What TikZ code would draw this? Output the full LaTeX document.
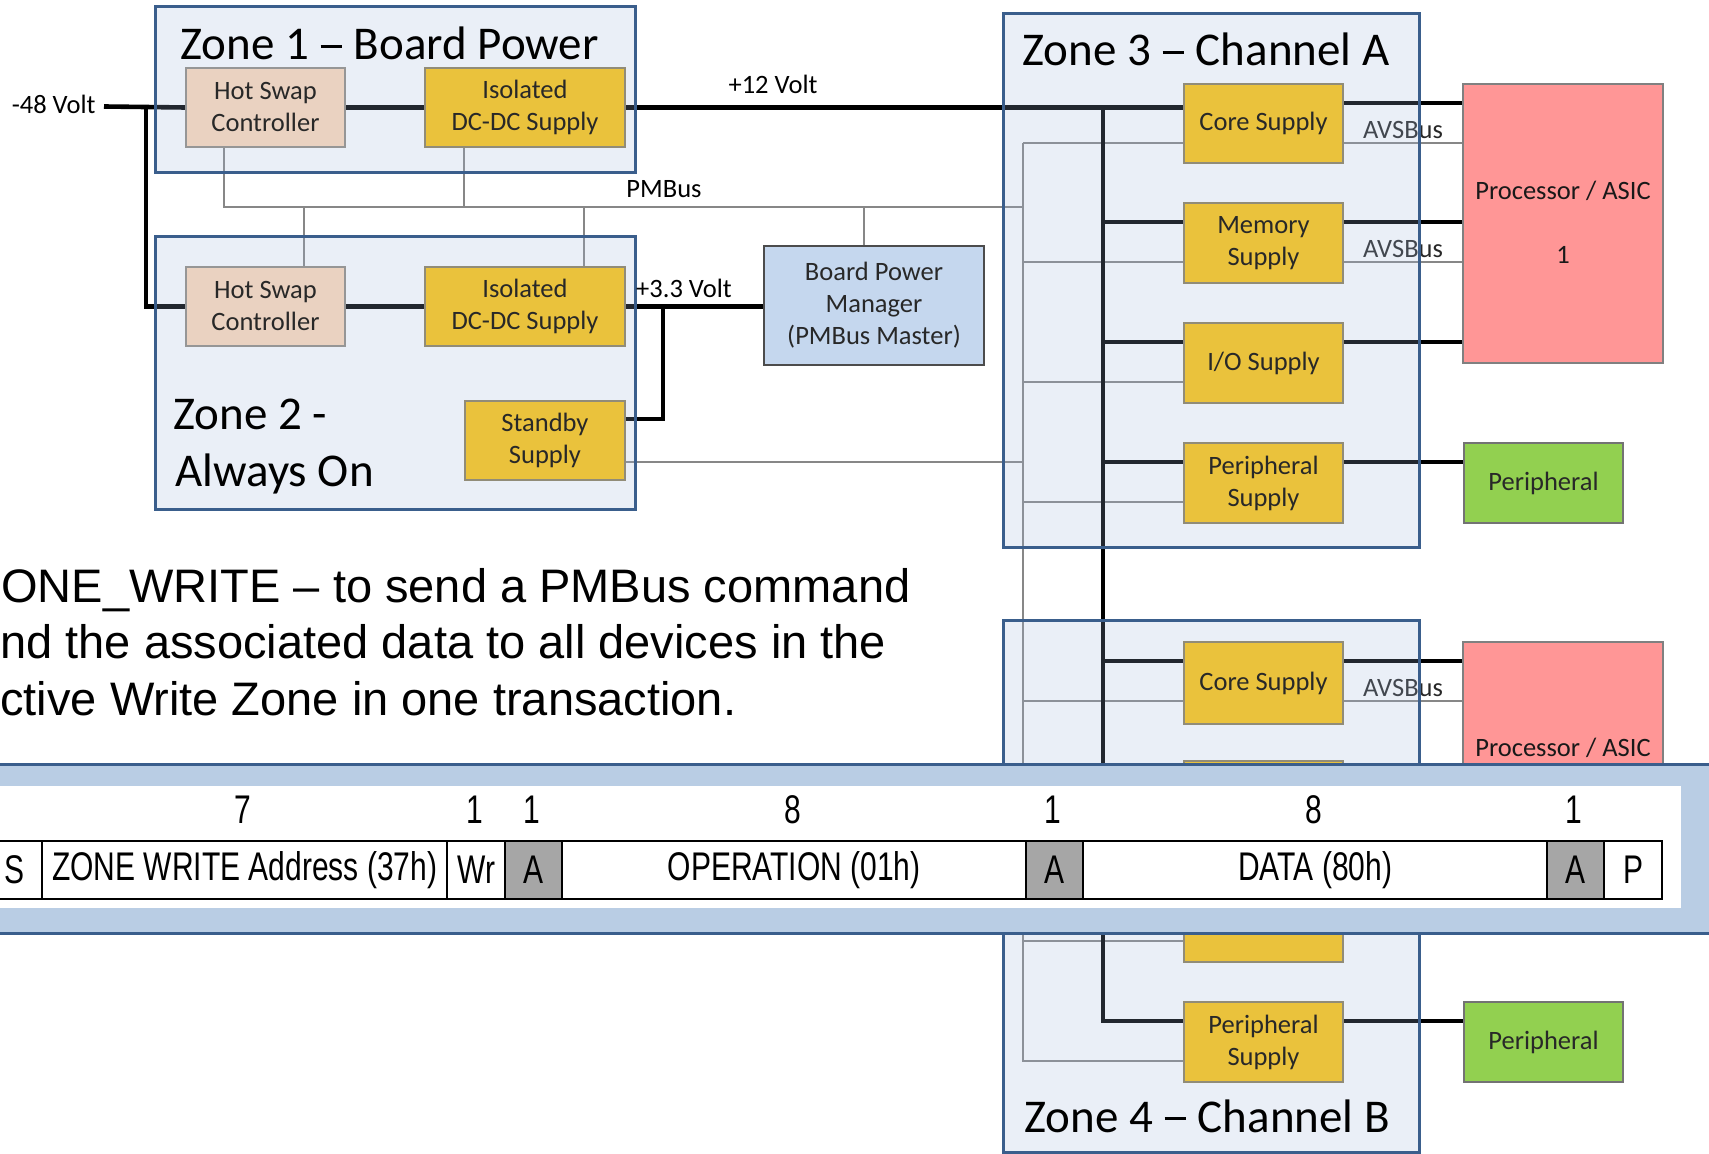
\documentclass[tikz,border=0pt]{standalone}
\usepackage{fontspec}
\setmainfont{Carlito}
\newfontfamily\arialf{Liberation Sans}
\newfontfamily\narrowf[FakeStretch=0.75]{Liberation Sans}
\usetikzlibrary{calc}
\pgfdeclarelayer{lines}
\pgfdeclarelayer{zones}
\pgfdeclarelayer{front}
\pgfsetlayers{lines,zones,main,front}

\definecolor{zoneblue}{RGB}{58,94,140}
\definecolor{zonetint}{RGB}{159,182,218}
\definecolor{hsfill}{RGB}{234,210,193}
\definecolor{hsline}{RGB}{150,150,150}
\definecolor{yfill}{RGB}{234,194,60}
\definecolor{yline}{RGB}{145,140,120}
\definecolor{bpmfill}{RGB}{197,215,238}
\definecolor{procfill}{RGB}{255,150,150}
\definecolor{perfill}{RGB}{146,208,80}
\definecolor{sigc}{RGB}{135,135,135}
\definecolor{bandfill}{RGB}{185,205,228}
\definecolor{cellgray}{RGB}{166,166,166}
\definecolor{txt}{RGB}{40,40,40}

\newcommand\myboxfont{\fontsize{13.25}{16}\selectfont}
\newcommand\mytitlefont{\fontsize{23.5}{28}\selectfont}
\newcommand\mymainfont{\arialf\fontsize{23.5}{28}\selectfont}
\newcommand\mycellfont{\narrowf\fontsize{20}{24}\selectfont}
\newcommand\zdash{\kern0.02em\rule[0.26em]{0.46em}{0.065em}\kern0.02em}
\newcommand\bx[7]{\node[#1, anchor=north west, minimum width={(#5-#3)*0.5pt}, minimum height={(#6-#4)*0.5pt}] (#2) at (#3,#4) {#7};}

\tikzset{
 basebox/.style={draw, line width=1pt, align=center, text=txt, font=\myboxfont, inner sep=1pt},
 hsbox/.style={basebox, draw=hsline, fill=hsfill},
 ybox/.style={basebox, draw=yline, fill=yfill},
 bpmbox/.style={basebox, draw=black!70, fill=bpmfill},
 procbox/.style={basebox, draw=black!50, fill=procfill},
 perbox/.style={basebox, draw=black!55, fill=perfill},
 zone/.style={draw=zoneblue, line width=1.7pt, fill=zonetint, fill opacity=0.22},
 ztitle/.style={font=\mytitlefont, text=black, inner sep=0pt, anchor=base west},
 lbl/.style={font=\myboxfont, text=black, inner sep=0pt},
 pw/.style={line width=2.3pt, draw=black},
 sig/.style={line width=1pt, draw=sigc},
 avs/.style={font=\myboxfont, text=txt, anchor=south, inner sep=1.5pt},
 mtext/.style={font=\mymainfont, inner sep=0pt, anchor=base west},
 bandbox/.style={draw=zoneblue, line width=1.7pt, fill=bandfill},
 whitebox/.style={fill=white, inner sep=0pt},
 cellbox/.style={draw=black, line width=1.1pt, fill=white, font=\mycellfont, inner sep=0pt},
 acell/.style={cellbox, fill=cellgray},
 hdr/.style={font=\mycellfont, inner sep=0pt},
}

\begin{document}
\begin{tikzpicture}[x=0.5pt,y=-0.5pt]
\useasboundingbox (0,0) rectangle (1709,1154);

% ---------- zones ----------
\begin{pgfonlayer}{zones}
\bx{zone}{Z1}{154}{5}{634}{171}{}
\bx{zone}{Z2}{154}{235}{634}{508}{}
\bx{zone}{Z3}{1002}{12}{1418}{546}{}
\bx{zone}{Z4}{1002}{619}{1418}{1151}{}
\end{pgfonlayer}

\node[ztitle] (T1) at (180,60) {Zone 1 \zdash{} Board Power};
\node[ztitle] (T2a) at (173,430) {Zone 2 -};
\node[ztitle] (T2b) at (175,487) {Always On};
\node[ztitle] (T3) at (1022,66) {Zone 3 \zdash{} Channel A};
\node[ztitle] (T4) at (1024,1132) {Zone 4 \zdash{} Channel B};

% ---------- boxes ----------
\bx{hsbox}{HS1}{185}{67}{344}{146}{Hot Swap\\Controller}
\bx{ybox}{DC1}{424}{67}{624}{146}{Isolated\\DC-DC Supply}
\bx{hsbox}{HS2}{185}{266}{344}{345}{Hot Swap\\Controller}
\bx{ybox}{DC2}{424}{266}{624}{345}{Isolated\\DC-DC Supply}
\bx{ybox}{SB}{464}{400}{624}{479}{Standby\\Supply}
\bx{bpmbox}{BPM}{763}{245}{983}{364}{Board Power\\Manager\\(PMBus Master)}
\bx{ybox}{CoreA}{1183}{83}{1342}{162}{Core Supply}
\bx{ybox}{MemA}{1183}{202}{1342}{282}{Memory\\Supply}
\bx{ybox}{IOA}{1183}{322}{1342}{402}{I/O Supply}
\bx{ybox}{PerA}{1183}{442}{1342}{522}{Peripheral\\Supply}
\bx{procbox}{ProcA}{1462}{83}{1662}{362}{}
\node[lbl, text=black!90] (PA1) at (1563,191) {Processor / ASIC};
\node[lbl, text=black!90] (PA2) at (1563,255) {1};
\bx{perbox}{PeriphA}{1463}{442}{1622}{522}{Peripheral}
\bx{ybox}{CoreB}{1183}{641}{1342}{723}{Core Supply}
\bx{ybox}{MemB}{1183}{760}{1342}{840}{}
\bx{ybox}{IOB}{1183}{881}{1342}{961}{}
\bx{ybox}{PerB}{1183}{1001}{1342}{1081}{Peripheral\\Supply}
\bx{procbox}{ProcB}{1462}{641}{1662}{900}{}
\node[lbl, text=black!90] (PB1) at (1563,748) {Processor / ASIC};
\bx{perbox}{PeriphB}{1463}{1001}{1622}{1081}{Peripheral}

% ---------- labels ----------
\node[lbl, anchor=east] (L48) at (96,104) {-48 Volt};
\node[lbl] (L12) at (773,84) {+12 Volt};
\node[lbl] (LPM) at (664,189) {PMBus};
\node[lbl] (L33) at (684,288) {+3.3 Volt};

% ---------- main text ----------
\node[mtext] (t1) at (1,603) {ONE\_WRITE – to send a PMBus command};
\node[mtext] (t2) at (0,659) {nd the associated data to all devices in the};
\node[mtext] (t3) at (0,716) {ctive Write Zone in one transaction.};

% ---------- connectors ----------
\foreach \x in {CoreA,MemA,IOA,PerA,CoreB,MemB,IOB,PerB}{
  \coordinate (\x in) at ($(\x.north west)+(0,20)$);
  \coordinate (\x out) at ($(\x.north east)+(0,20)$);
  \coordinate (\x g) at ($(\x.north west)+(0,60)$);
  \coordinate (\x gr) at ($(\x.north east)+(0,60)$);
}
\coordinate (m48) at (104,106.5);
\coordinate (vb) at (146,106.5);
\coordinate (bus) at (1103,0);
\coordinate (gb) at (1023,0);
\coordinate (pm) at (0,207);
\coordinate (sbx) at (663,0);
\coordinate (HS1p) at ($(HS1.south west)+(39,0)$);
\coordinate (DC1p) at ($(DC1.south west)+(40,0)$);
\coordinate (HS2p) at ($(HS2.north west)+(119,0)$);
\coordinate (DC2p) at ($(DC2.north west)+(160,0)$);
\coordinate (BPMp) at ($(BPM.north)+(-10,0)$);
\coordinate (SBin) at ($(SB.north east)+(0,19)$);
\coordinate (SBg) at ($(SB.north east)+(0,62)$);

\begin{pgfonlayer}{lines}
% signal (PMBus / AVSBus)
\draw[sig] (HS1p) |- (gb |- pm);
\foreach \x in {DC1p,HS2p,DC2p,BPMp} \draw[sig] (\x) -- (\x |- pm);
\draw[sig] (gb |- CoreAg) -- (gb |- PerBg) -- (PerBg);
\foreach \x in {CoreA,MemA,IOA,PerA,CoreB,MemB,IOB} \draw[sig] (gb |- \x g) -- (\x g);
\draw[sig] (SBg) -- (SBg -| gb);
\foreach \x/\y in {CoreA/ProcA,MemA/ProcA,CoreB/ProcB}
  \draw[sig] (\x gr) -- node[avs] (avs\x) {AVSBus} (\x gr -| \y.west);
% power
\draw[pw] (m48) -- (HS1.west);
\draw[pw] (vb) |- (HS2.west);
\draw[pw] (HS1.east) -- (DC1.west);
\draw[pw] (HS2.east) -- (DC2.west);
\draw[pw] (DC1.east) -- (DC1.east -| CoreA.west);
\draw[pw] (DC1.east -| bus) |- (PerBin);
\foreach \x in {MemA,IOA,PerA,CoreB,MemB,IOB} \draw[pw] (bus |- \x in) -- (\x in);
\foreach \x/\y in {CoreA/ProcA,MemA/ProcA,IOA/ProcA,PerA/PeriphA,CoreB/ProcB,MemB/ProcB,IOB/ProcB,PerB/PeriphB}
  \draw[pw] (\x out) -- (\x out -| \y.west);
\draw[pw] (DC2.east) -- (DC2.east -| BPM.west);
\draw[pw] (DC2.east -| sbx) |- (SBin);
\end{pgfonlayer}

% ---------- protocol band ----------
\begin{pgfonlayer}{front}
\bx{bandbox}{Band}{-20}{763}{1740}{932}{}
\bx{whitebox}{Inner}{-20}{786}{1681}{908}{}
\bx{cellbox}{cS}{-15}{840}{41}{898}{S}
\bx{cellbox}{cAddr}{41}{840}{446}{898}{ZONE WRITE Address (37h)}
\bx{cellbox}{cWr}{446}{840}{504}{898}{Wr}
\bx{acell}{cA1}{504}{840}{561}{898}{A}
\bx{cellbox}{cOp}{561}{840}{1025}{898}{OPERATION (01h)}
\bx{acell}{cA2}{1025}{840}{1082}{898}{A}
\bx{cellbox}{cData}{1082}{840}{1546}{898}{DATA (80h)}
\bx{acell}{cA3}{1546}{840}{1603}{898}{A}
\bx{cellbox}{cP}{1603}{840}{1661}{898}{P}
\node[hdr] (h1) at (243,810) {7};
\node[hdr] (h2) at (475,810) {1};
\node[hdr] (h3) at (532,810) {1};
\node[hdr] (h4) at (793,810) {8};
\node[hdr] (h5) at (1053,810) {1};
\node[hdr] (h6) at (1314,810) {8};
\node[hdr] (h7) at (1574,810) {1};
\end{pgfonlayer}
\end{tikzpicture}
\end{document}
